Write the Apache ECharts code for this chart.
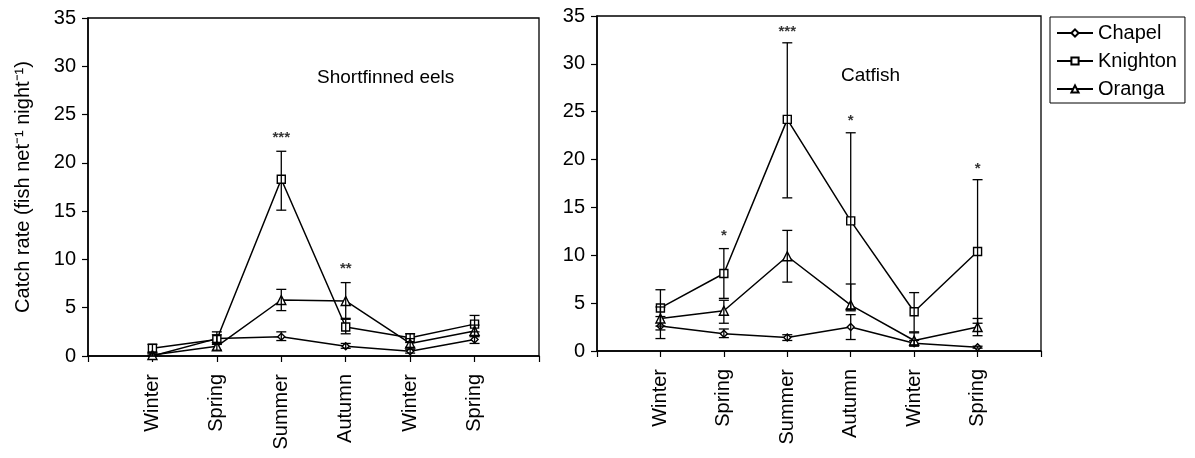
<!DOCTYPE html>
<html>
<head>
<meta charset="utf-8">
<script src="https://cdn.jsdelivr.net/npm/echarts@6/dist/echarts.min.js"></script>
<style>
  html, body { margin: 0; padding: 0; background: #fff; }
  #chart { width: 1195px; height: 458px; }
</style>
</head>
<body>
<div id="chart"></div>
<script>
// seasons along the x axis (positions 1..6)
var seasons = ['Winter', 'Spring', 'Summer', 'Autumn', 'Winter', 'Spring'];
var yTicks = [0, 5, 10, 15, 20, 25, 30, 35];

// Shortfinned eels
var eelChapel = [0.0, 1.8, 2.0, 1.0, 0.5, 1.7];
var eelChapelErr = [[0.0, 0.2], [1.4, 2.2], [1.6, 2.5], [0.8, 1.3], [0.3, 0.7], [1.3, 2.1]];
var eelKnighton = [0.8, 1.7, 18.3, 3.0, 1.9, 3.3];
var eelKnightonErr = [[0.4, 1.2], [1.2, 2.5], [15.1, 21.2], [2.3, 3.8], [1.4, 2.3], [2.5, 4.2]];
var eelOranga = [0.1, 1.0, 5.8, 5.7, 1.3, 2.6];
var eelOrangaErr = [[0.0, 0.3], [0.6, 1.4], [4.7, 6.9], [3.9, 7.6], [0.9, 1.8], [2.0, 3.2]];
var eelSig = [[3, 22.6, '***'], [4, 9.0, '**']];

// Catfish
var catChapel = [2.6, 1.8, 1.4, 2.5, 0.8, 0.4];
var catChapelErr = [[1.3, 3.6], [1.4, 2.3], [1.1, 1.7], [1.2, 3.8], [0.5, 1.1], [0.3, 0.5]];
var catKnighton = [4.5, 8.1, 24.2, 13.6, 4.1, 10.4];
var catKnightonErr = [[2.6, 6.4], [5.5, 10.7], [16.0, 32.2], [4.4, 22.8], [2.0, 6.1], [2.9, 17.9]];
var catOranga = [3.4, 4.2, 9.9, 4.8, 1.1, 2.5];
var catOrangaErr = [[2.2, 4.6], [2.9, 5.3], [7.2, 12.6], [4.2, 7.0], [0.6, 1.9], [1.6, 3.4]];
var catSig = [[2, 12.0, '*'], [3, 33.3, '***'], [4, 24.0, '*'], [6, 19.0, '*']];

var FONT = '"Liberation Sans", Arial, Helvetica, sans-serif';

function lineSeries(name, idx, values, symbol, size) {
  return {
    type: 'line',
    name: name,
    xAxisIndex: idx,
    yAxisIndex: idx,
    data: values.map(function (v, i) { return [i + 1, v]; }),
    symbol: symbol,
    symbolSize: size,
    showAllSymbol: true,
    color: '#000',
    lineStyle: { color: '#000', width: 1.5 },
    itemStyle: { color: '#fff', borderColor: '#000', borderWidth: 1.4 },
    emphasis: { disabled: true },
    z: 3
  };
}

function errSeries(idx, errs) {
  return {
    type: 'custom',
    xAxisIndex: idx,
    yAxisIndex: idx,
    data: errs.map(function (e, i) { return [i + 1, e[0], e[1]]; }),
    encode: { x: 0, y: [1, 2] },
    renderItem: function (params, api) {
      var x = api.value(0);
      var lo = api.coord([x, api.value(1)]);
      var hi = api.coord([x, api.value(2)]);
      var half = 5;
      var st = { stroke: '#000', lineWidth: 1.3 };
      return {
        type: 'group',
        children: [
          { type: 'line', shape: { x1: lo[0], y1: lo[1], x2: hi[0], y2: hi[1] }, style: st },
          { type: 'line', shape: { x1: hi[0] - half, y1: hi[1], x2: hi[0] + half, y2: hi[1] }, style: st },
          { type: 'line', shape: { x1: lo[0] - half, y1: lo[1], x2: lo[0] + half, y2: lo[1] }, style: st }
        ]
      };
    },
    silent: true,
    z: 4
  };
}

function sigSeries(idx, sig) {
  return {
    type: 'scatter',
    xAxisIndex: idx,
    yAxisIndex: idx,
    data: sig,
    symbolSize: 0,
    label: {
      show: true,
      position: 'inside',
      formatter: function (p) { return p.data[2]; },
      color: '#000',
      fontSize: 15,
      fontWeight: 'bold',
      fontFamily: FONT
    },
    silent: true
  };
}

function xAxis(idx) {
  return {
    type: 'value',
    gridIndex: idx,
    min: 0,
    max: 7,
    interval: 1,
    axisLine: { lineStyle: { color: '#000', width: 1.5 } },
    axisTick: { length: 6, lineStyle: { color: '#000', width: 1.2 } },
    splitLine: { show: false },
    axisLabel: {
      rotate: 90,
      margin: 18,
      color: '#000',
      fontSize: 20,
      fontFamily: FONT,
      formatter: function (v) { return seasons[v - 1] || ''; }
    }
  };
}

function yAxis(idx) {
  return {
    type: 'value',
    gridIndex: idx,
    min: yTicks[0],
    max: yTicks[yTicks.length - 1],
    interval: 5,
    axisLine: { show: true, lineStyle: { color: '#000', width: 1.5 } },
    axisTick: { show: true, length: 6, lineStyle: { color: '#000', width: 1.2 } },
    splitLine: { show: false },
    axisLabel: { margin: 12, color: '#000', fontSize: 20, fontFamily: FONT }
  };
}

var chart = echarts.init(document.getElementById('chart'), null, { renderer: 'canvas' });

var yLeft = yAxis(0);
yLeft.name = 'Catch rate (fish net\u207B\u00B9 night\u207B\u00B9)';
yLeft.nameLocation = 'middle';
yLeft.nameGap = 55;
yLeft.nameTextStyle = { color: '#000', fontSize: 20, fontFamily: FONT };

var option = {
  backgroundColor: '#fff',
  animation: false,
  textStyle: { fontFamily: FONT },
  title: [
    { text: 'Shortfinned eels', left: 312, top: 63, textStyle: { fontSize: 19, fontWeight: 'normal', color: '#000', fontFamily: FONT } },
    { text: 'Catfish', left: 836, top: 61, textStyle: { fontSize: 19, fontWeight: 'normal', color: '#000', fontFamily: FONT } }
  ],
  legend: {
    data: ['Chapel', 'Knighton', 'Oranga'],
    orient: 'vertical',
    left: 1050,
    top: 17,
    padding: [5, 8, 3, 6],
    itemGap: 6,
    itemWidth: 36,
    itemHeight: 9,
    borderColor: '#000',
    borderWidth: 1,
    borderRadius: 0,
    textStyle: { color: '#000', fontSize: 20, fontFamily: FONT, lineHeight: 22 }
  },
  grid: [
    { left: 88, top: 18, width: 451, height: 338, show: true, borderColor: '#000', borderWidth: 1.3, backgroundColor: 'transparent' },
    { left: 597, top: 16, width: 444, height: 335, show: true, borderColor: '#000', borderWidth: 1.3, backgroundColor: 'transparent' }
  ],
  xAxis: [xAxis(0), xAxis(1)],
  yAxis: [yLeft, yAxis(1)],
  series: [
    lineSeries('Chapel', 0, eelChapel, 'diamond', 7),
    lineSeries('Knighton', 0, eelKnighton, 'rect', 8),
    lineSeries('Oranga', 0, eelOranga, 'triangle', 9),
    errSeries(0, eelChapelErr),
    errSeries(0, eelKnightonErr),
    errSeries(0, eelOrangaErr),
    sigSeries(0, eelSig),
    lineSeries('Chapel', 1, catChapel, 'diamond', 7),
    lineSeries('Knighton', 1, catKnighton, 'rect', 8),
    lineSeries('Oranga', 1, catOranga, 'triangle', 9),
    errSeries(1, catChapelErr),
    errSeries(1, catKnightonErr),
    errSeries(1, catOrangaErr),
    sigSeries(1, catSig)
  ]
};

chart.setOption(option);
</script>
</body>
</html>
